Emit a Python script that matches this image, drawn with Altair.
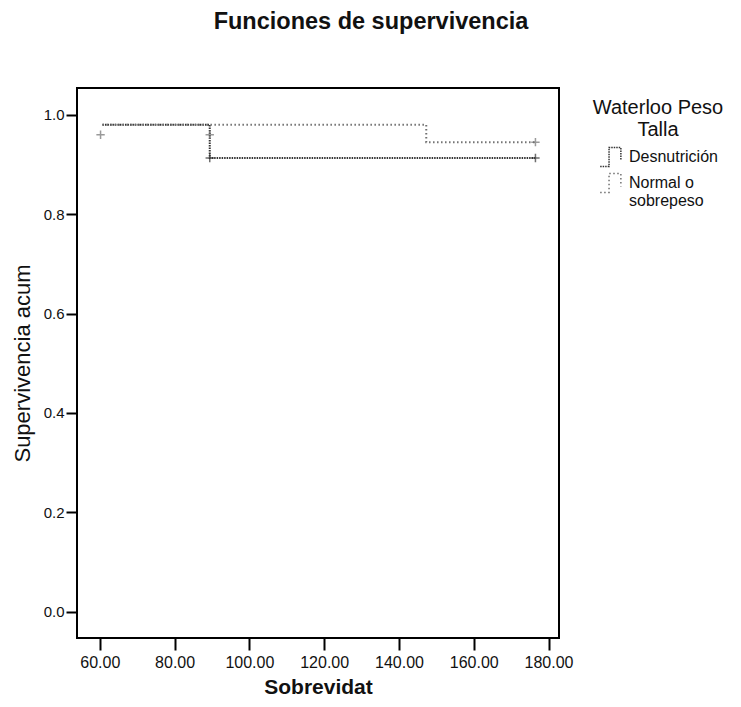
import altair as alt
import pandas as pd

# Survival step data
groups = ["Desnutrición", "Normal o sobrepeso"]
desn_time = [60.7, 89.4, 176.5]
desn_surv = [0.980, 0.913, 0.913]
norm_time = [60.7, 147.3, 176.5]
norm_surv = [0.980, 0.945, 0.945]

# Censored marks (+)
cens_group = ["Normal o sobrepeso", "Normal o sobrepeso", "Desnutrición", "Desnutrición", "Normal o sobrepeso"]
cens_time = [60.2, 89.4, 89.4, 176.5, 176.5]
cens_surv = [0.960, 0.960, 0.913, 0.913, 0.945]

x_ticks = [60, 80, 100, 120, 140, 160, 180]
y_ticks = [0.0, 0.2, 0.4, 0.6, 0.8, 1.0]

lines = pd.DataFrame({
    "grupo": [groups[0]] * len(desn_time) + [groups[1]] * len(norm_time),
    "t": desn_time + norm_time,
    "s": desn_surv + norm_surv,
})
cens = pd.DataFrame({"grupo": cens_group, "t": cens_time, "s": cens_surv})

FONT = "Liberation Sans"

xscale = alt.Scale(domain=[53.9, 182.8], nice=False, zero=False)
yscale = alt.Scale(domain=[-0.053, 1.054], nice=False, zero=False)

xaxis = alt.Axis(values=x_ticks, format=".2f", title="Sobrevidat", grid=False, domain=False,
                 tickSize=12, tickWidth=2, tickColor="black", labelFontSize=16, labelColor="#111",
                 labelPadding=4, titleFontSize=21, titleFontWeight="bold", titlePadding=6,
                 titleColor="#111")
yaxis = alt.Axis(values=y_ticks, format=".1f", title="Supervivencia acum", grid=False, domain=False,
                 tickSize=11, tickWidth=2, tickColor="black", labelFontSize=15, labelColor="#111",
                 labelPadding=2, titleFontSize=22, titleFontWeight="normal", titlePadding=9,
                 titleColor="#111")

step_icon = "M -1 0.8 L -0.25 0.8 L -0.25 -0.8 L 0.75 -0.8 L 0.75 0.3"

color = alt.Color("grupo:N", scale=alt.Scale(domain=groups, range=["#333333", "#707070"]),
                  legend=alt.Legend(
                      title=["Waterloo Peso", "Talla"], orient="none", legendX=516, legendY=10,
                      titleFontSize=20, titleFontWeight="normal", titleAlign="center",
                      titleAnchor="middle", titleColor="#111", titleLimit=300, titlePadding=4,
                      labelFontSize=16, labelColor="#111", labelLimit=200, labelOffset=4,
                      labelExpr="datum.label == 'Normal o sobrepeso' ? ['Normal o', 'sobrepeso'] : datum.label",
                      symbolType=step_icon, symbolSize=560, symbolStrokeWidth=1.5,
                      symbolFillColor="transparent", rowPadding=-3, padding=0))
dash = alt.StrokeDash("grupo:N", scale=alt.Scale(domain=groups, range=[[1.5, 1], [1.5, 2.5]]), legend=None)

line = alt.Chart(lines).mark_line(interpolate="step-after", strokeWidth=2).encode(
    x=alt.X("t:Q", scale=xscale, axis=xaxis),
    y=alt.Y("s:Q", scale=yscale, axis=yaxis),
    color=color,
    strokeDash=dash,
    detail="grupo:N",
)

plus = "M -1 0 L 1 0 M 0 -1 L 0 1"
pts = alt.Chart(cens).mark_point(shape=plus, size=70, strokeWidth=1.5, filled=False).encode(
    x=alt.X("t:Q", scale=xscale),
    y=alt.Y("s:Q", scale=yscale),
    color=alt.Color("grupo:N", scale=alt.Scale(domain=groups, range=["#333333", "#707070"]), legend=None),
)

chart = alt.layer(line, pts).properties(
    width=482, height=550,
    title=alt.TitleParams("Funciones de supervivencia", fontSize=23.5, fontWeight="bold", font=FONT,
                          anchor="middle", dx=53, offset=55, color="#111"),
    autosize=alt.AutoSizeParams(type="none"),
    padding={"left": 69, "top": 80, "right": 174, "bottom": 61},
).configure(font=FONT).configure_view(stroke="black", strokeWidth=2)

chart.save("out.html", embed_options={"renderer": "svg", "actions": False})
